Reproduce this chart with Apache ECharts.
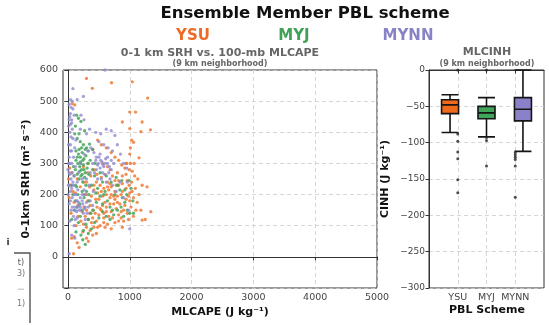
<!DOCTYPE html>
<html>
<head>
<meta charset="utf-8">
<script src="https://cdn.jsdelivr.net/npm/echarts@6/dist/echarts.min.js"></script>
<style>
  html, body { margin: 0; padding: 0; background: #fff; }
  #container { width: 549px; height: 325px; }
</style>
</head>
<body>
<div id="container"></div>
<script>
// scheme names and colours
var schemes = ['YSU', 'MYJ', 'MYNN'];
var schemeColors = ['#ee6a24', '#40a157', '#8882c6'];
var dotColors = ['#f17a35', '#45a65b', '#9189d0'];
var boxColors = ['#f06a1c', '#3fa35a', '#8a82c9'];

// tick labels
var capeTicks = [0, 1000, 2000, 3000, 4000, 5000];
var srhTicks = [0, 100, 200, 300, 400, 500, 600];

// 0-1 km SRH vs MLCAPE points [cape, srh]
var ysuPts = [
  [300,573],[395,541],[705,559],[1040,562],[1290,510],[70,492],[110,488],[1000,465],[1095,465],[880,433],
  [1200,433],[1335,408],[1000,412],[1180,402],[1030,375],[1060,368],[1010,350],[1150,318],[950,300],[870,295],
  [920,285],[990,280],[1040,275],[480,375],[540,360],[620,350],[400,345],[700,335],[760,320],[820,310],
  [560,300],[640,290],[330,300],[250,290],[30,285],[60,270],[10,250],[40,230],[80,210],[20,190],
  [100,175],[160,165],[50,140],[300,240],[350,225],[420,215],[480,205],[520,230],[580,220],[640,240],
  [700,225],[760,210],[820,245],[880,235],[940,220],[1000,205],[1060,190],[1120,175],[1180,150],[1250,120],
  [1200,118],[1340,145],[1150,200],[1090,220],[320,180],[360,165],[400,150],[440,140],[470,160],[500,135],
  [540,150],[580,140],[620,160],[660,130],[700,145],[740,170],[780,155],[820,135],[860,125],[900,150],
  [960,140],[1020,160],[1060,130],[980,120],[900,115],[840,170],[760,185],[680,190],[600,175],[560,195],
  [450,185],[380,195],[300,200],[260,160],[230,145],[280,130],[330,120],[380,110],[420,95],[460,115],
  [520,100],[580,110],[640,105],[700,90],[760,110],[460,75],[400,70],[360,85],[300,95],[250,105],
  [210,115],[160,130],[130,100],[100,65],[150,45],[60,60],[180,30],[90,10],[240,80],[300,60],
  [330,50],[520,155],[620,200],[720,260],[800,270],[880,260],[960,245],[1030,240],[680,280],[600,265],
  [540,255],[470,265],[420,280],[370,260],[320,270],[260,240],[200,225],[150,250],[120,205],[660,215],
  [860,200],[940,185],[800,195],[720,125],[880,95],[1000,180],[1100,150],[1200,230],[1130,250],[1280,225],
  [940,265],[1010,300],[820,230],[580,125],[480,95],[420,230],[500,185],[560,165],[620,145],[680,170],
  [740,195],[800,175],[860,145],[920,165],[980,195],[1040,210],[880,210],[780,230],[640,225],[540,210],
  [460,240],[400,125],[350,140],[300,150],[260,200],[700,200],[820,115],[600,95],[680,235],[760,245],
  [1080,260],[940,300],[1000,330],[1070,300],[990,230]
];
var myjPts = [
  [140,455],[170,445],[210,435],[120,420],[270,405],[110,395],[150,380],[200,370],[250,360],[300,350],
  [350,362],[400,345],[130,340],[170,330],[200,320],[230,335],[260,315],[290,325],[320,300],[160,300],
  [190,290],[220,280],[250,295],[280,270],[310,285],[340,265],[120,280],[150,265],[180,250],[210,260],
  [240,240],[270,255],[200,305],[240,310],[180,345],[130,310],[90,290],[100,260],[60,230],[80,200],
  [120,180],[150,160],[190,170],[230,150],[260,190],[300,210],[340,180],[380,230],[430,260],[480,220],
  [520,195],[560,170],[600,210],[640,180],[680,160],[720,150],[760,200],[800,230],[840,215],[880,190],
  [920,175],[960,150],[1000,140],[1050,180],[700,240],[620,260],[460,175],[410,150],[370,140],[330,120],
  [290,105],[250,85],[210,70],[240,55],[280,40],[330,75],[380,90],[430,110],[500,125],[560,145],
  [620,130],[680,120],[740,135],[800,150],[860,160],[900,130],[950,200],[1020,220],[870,245],[780,255],
  [560,240],[520,270],[440,300],[400,280],[360,310],[330,340],[280,345],[220,350],[180,395],[140,225],
  [100,150],[60,120],[170,110],[130,80],[200,130],[160,200],[120,230],[230,210],[290,230],[340,200],
  [450,205],[580,200],[1060,140],[990,245],[920,215],[210,300],[260,280],[190,275],[150,320],[230,265]
];
var mynnPts = [
  [600,600],[80,540],[40,505],[70,500],[20,490],[250,515],[150,505],[20,440],[40,425],[60,430],
  [30,400],[50,385],[10,360],[40,340],[20,320],[60,300],[0,280],[30,265],[50,250],[10,230],
  [40,210],[70,190],[20,170],[50,150],[90,130],[30,115],[110,60],[60,70],[150,180],[180,165],
  [210,150],[240,170],[270,155],[300,175],[330,160],[360,180],[130,200],[160,215],[200,190],[230,200],
  [260,215],[110,160],[140,145],[280,200],[310,140],[400,165],[150,240],[100,260],[120,290],[90,320],
  [110,350],[130,375],[400,300],[450,310],[480,295],[500,320],[520,285],[550,305],[580,290],[610,315],
  [640,300],[670,290],[700,310],[520,330],[560,270],[600,265],[460,280],[430,270],[660,270],[700,280],
  [740,300],[540,250],[480,250],[620,240],[680,250],[720,340],[650,350],[580,360],[500,370],[450,400],
  [530,395],[620,410],[700,405],[760,390],[800,360],[850,330],[900,300],[950,285],[960,240],[980,150],
  [1000,90],[900,190],[780,210],[720,230],[840,240],[360,270],[300,250],[260,330],[320,340],[370,350],
  [420,335],[200,410],[300,395],[350,410],[260,440],[210,455],[100,455],[80,475],[40,460],[200,300],
  [170,270],[230,250],[340,230],[410,210],[60,440],[70,270],[20,230],[5,200],[100,100],[120,120],
  [150,125],[280,120],[20,10],[490,300],[530,310],[570,295],[600,300],[640,320],[460,320],[180,150],
  [30,300],[60,340],[80,380],[40,360],[20,270],[60,220],[80,240],[10,300],[40,180],[70,160],
  [100,200],[120,150],[150,160],[170,175],[200,160],[230,180],[250,140],[280,160],[130,180],[90,230],
  [50,480],[30,450],[70,410],[10,420]
];

// MLCINH box stats per scheme: [min, Q1, median, Q3, max]
var cinhTicks = [0, -50, -100, -150, -200, -250, -300];
var ysuBox = [-86, -60, -48, -41, -34];
var myjBox = [-92, -67, -59, -50, -38];
var mynnBox = [-112, -70, -54, -38, 0];
var ysuOut = [0, -88, -98, -113, -122, -151, -169];
var myjOut = [0, -93, -97, -132];
var mynnOut = [-114, -117, -120, -123, -132, -175];

var FONT = "'DejaVu Sans', sans-serif";
var gridLine = { show: true, lineStyle: { color: '#cccccc', type: [4, 3], width: 0.8 } };
var boxCats = [''].concat(schemes).concat(['']);
var boxStats = [ysuBox, myjBox, mynnBox];
var outliers = [ysuOut, myjOut, mynnOut];

function minus(v) { return String(v).replace('-', '\u2212'); }

var boxSeries = boxStats.map(function (b, i) {
  return {
    type: 'boxplot', xAxisIndex: 1, yAxisIndex: 1,
    boxWidth: [17, 17],
    encode: { x: 0, y: [1, 2, 3, 4, 5] },
    data: [[i + 1].concat(b)],
    itemStyle: { color: boxColors[i], borderColor: '#151515', borderWidth: 1.6 },
    z: 5
  };
});

var outData = [];
outliers.forEach(function (arr, i) {
  arr.forEach(function (v) { outData.push([i + 1, v]); });
});

var option = {
  animation: false,
  textStyle: { fontFamily: FONT },
  grid: [
    { left: 63, top: 70, width: 314, height: 218, show: true, borderColor: '#333', borderWidth: 1, backgroundColor: 'transparent' },
    { left: 429, top: 70, width: 115, height: 218, show: true, borderColor: '#333', borderWidth: 1, backgroundColor: 'transparent' }
  ],
  xAxis: [
    {
      type: 'value', gridIndex: 0, min: -80, max: 5000,
      axisLine: { show: true, lineStyle: { color: '#333' } },
      axisTick: { show: true, length: 3.5, customValues: capeTicks, lineStyle: { color: '#333' } },
      axisLabel: { customValues: capeTicks, color: '#444', fontSize: 9.5, margin: 5, fontFamily: FONT,
        formatter: function (v) { return String(v); } },
      splitLine: gridLine
    },
    {
      type: 'category', gridIndex: 1, data: boxCats, boundaryGap: false,
      axisLine: { show: true, lineStyle: { color: '#333' } },
      axisTick: { show: true, length: 3.5, alignWithLabel: true, interval: function (i) { return i > 0 && i < 4; }, lineStyle: { color: '#333' } },
      axisLabel: { interval: 0, color: '#444', fontSize: 9.5, margin: 5, fontFamily: FONT },
      splitLine: { show: true, interval: function (i) { return i > 0 && i < 4; }, lineStyle: gridLine.lineStyle }
    }
  ],
  yAxis: [
    {
      type: 'value', gridIndex: 0, min: -100, max: 600, interval: 100,
      axisLine: { show: true, lineStyle: { color: '#333' } },
      axisTick: { show: true, length: 3.5, lineStyle: { color: '#333' } },
      axisLabel: { color: '#444', fontSize: 9.5, margin: 5, fontFamily: FONT,
        formatter: function (v) { return srhTicks.indexOf(v) >= 0 ? String(v) : ''; } },
      splitLine: gridLine
    },
    {
      type: 'value', gridIndex: 1, min: -300, max: 0, interval: 50,
      axisLine: { show: true, lineStyle: { color: '#333' } },
      axisTick: { show: true, length: 3.5, lineStyle: { color: '#333' } },
      axisLabel: { color: '#444', fontSize: 9, margin: 4, fontFamily: FONT,
        formatter: function (v) { return cinhTicks.indexOf(v) >= 0 ? minus(v) : ''; } },
      splitLine: gridLine
    }
  ],
  series: [
    { type: 'scatter', data: ysuPts, symbolSize: 3.3, itemStyle: { color: dotColors[0], opacity: 0.85 } },
    { type: 'scatter', data: myjPts, symbolSize: 3.3, itemStyle: { color: dotColors[1], opacity: 0.85 } },
    { type: 'scatter', data: mynnPts, symbolSize: 3.3, itemStyle: { color: dotColors[2], opacity: 0.8 } }
  ].concat(boxSeries).concat([
    { type: 'scatter', xAxisIndex: 1, yAxisIndex: 1, data: outData, symbolSize: 3, itemStyle: { color: '#222' }, z: 6 }
  ]),
  graphic: [
    { type: 'text', x: 305, y: 14, style: { text: 'Ensemble Member PBL scheme', font: 'bold 16.5px ' + FONT, fill: '#111', align: 'center', verticalAlign: 'middle' } },
    { type: 'text', x: 193, y: 36, style: { text: schemes[0], font: 'bold 15px ' + FONT, fill: schemeColors[0], align: 'center', verticalAlign: 'middle' } },
    { type: 'text', x: 294, y: 36, style: { text: schemes[1], font: 'bold 15px ' + FONT, fill: schemeColors[1], align: 'center', verticalAlign: 'middle' } },
    { type: 'text', x: 408, y: 36, style: { text: schemes[2], font: 'bold 15px ' + FONT, fill: schemeColors[2], align: 'center', verticalAlign: 'middle' } },
    { type: 'text', x: 220, y: 53, style: { text: '0-1 km SRH vs. 100-mb MLCAPE', font: 'bold 11px ' + FONT, fill: '#666', align: 'center', verticalAlign: 'middle' } },
    { type: 'text', x: 220, y: 64, style: { text: '(9 km neighborhood)', font: 'bold 8px ' + FONT, fill: '#666', align: 'center', verticalAlign: 'middle' } },
    { type: 'text', x: 487, y: 52, style: { text: 'MLCINH', font: 'bold 11px ' + FONT, fill: '#666', align: 'center', verticalAlign: 'middle' } },
    { type: 'text', x: 487, y: 64, style: { text: '(9 km neighborhood)', font: 'bold 8px ' + FONT, fill: '#666', align: 'center', verticalAlign: 'middle' } },
    { type: 'text', x: 220, y: 312, style: { text: 'MLCAPE (J kg\u207b\u00b9)', font: 'bold 11px ' + FONT, fill: '#111', align: 'center', verticalAlign: 'middle' } },
    { type: 'text', x: 487, y: 310, style: { text: 'PBL Scheme', font: 'bold 11px ' + FONT, fill: '#111', align: 'center', verticalAlign: 'middle' } },
    { type: 'text', x: 26, y: 179, rotation: Math.PI / 2, style: { text: '0-1km SRH (m\u00b2 s\u207b\u00b2)', font: 'bold 11px ' + FONT, fill: '#111', align: 'center', verticalAlign: 'middle' } },
    { type: 'text', x: 385, y: 179, rotation: Math.PI / 2, style: { text: 'CINH (J kg\u207b\u00b9)', font: 'bold 11px ' + FONT, fill: '#111', align: 'center', verticalAlign: 'middle' } },
    // clipped legend fragment bottom-left
    { type: 'polyline', shape: { points: [[14, 253], [30, 253], [30, 323]] }, style: { stroke: '#555', lineWidth: 1.4, fill: null } },
    { type: 'text', x: 8, y: 243, style: { text: 'i', font: 'bold 9px ' + FONT, fill: '#333', align: 'center', verticalAlign: 'middle' } },
    { type: 'text', x: 21, y: 263, style: { text: 't)', font: '8px ' + FONT, fill: '#555', align: 'center', verticalAlign: 'middle' } },
    { type: 'text', x: 21, y: 274, style: { text: '3)', font: '8px ' + FONT, fill: '#777', align: 'center', verticalAlign: 'middle' } },
    { type: 'text', x: 21, y: 289, style: { text: '\u2014', font: '7px ' + FONT, fill: '#777', align: 'center', verticalAlign: 'middle' } },
    { type: 'text', x: 21, y: 304, style: { text: '1)', font: '8px ' + FONT, fill: '#777', align: 'center', verticalAlign: 'middle' } }
  ]
};

var myChart = echarts.init(document.getElementById('container'));
myChart.setOption(option);
</script>
</body>
</html>
